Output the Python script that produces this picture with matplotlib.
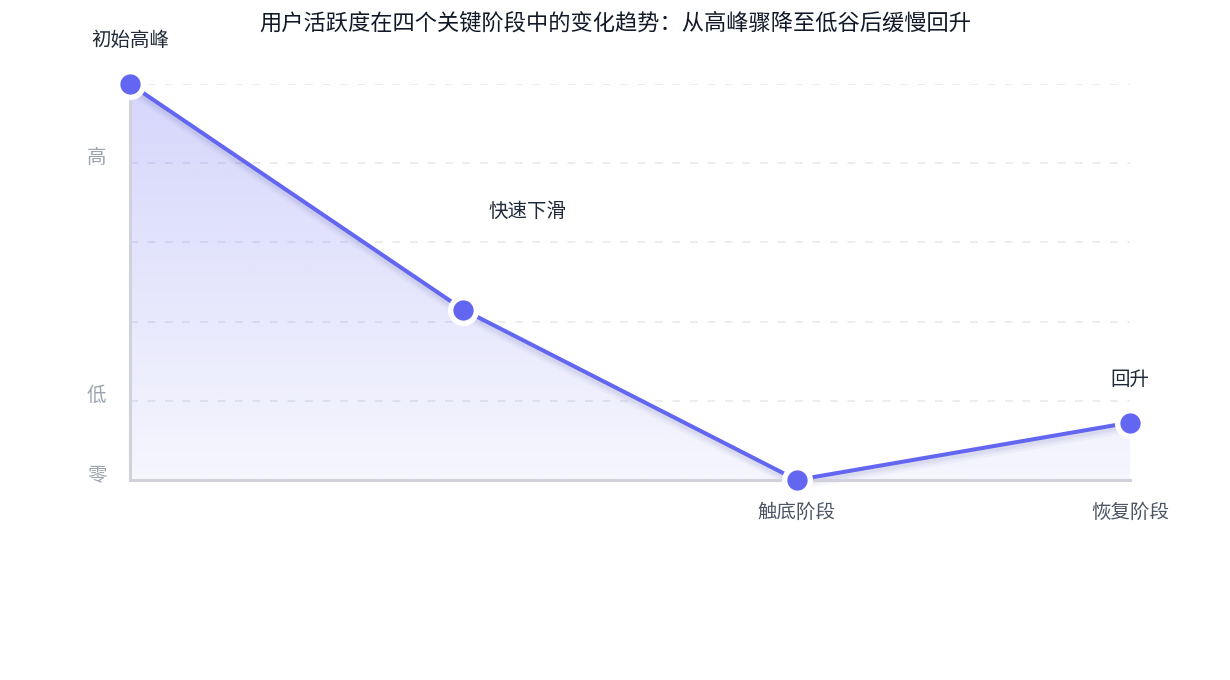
import matplotlib
matplotlib.use("Agg")
import matplotlib.pyplot as plt
import matplotlib.transforms as mtransforms
from matplotlib.colors import LinearSegmentedColormap
import numpy as np

plt.rcParams['font.family'] = ['Noto Sans CJK SC', 'DejaVu Sans']

# ---- data ----
title = "用户活跃度在四个关键阶段中的变化趋势：从高峰骤降至低谷后缓慢回升"
x_positions = [0, 1, 2, 3]
values = [100, 43, 0, 14.5]
point_labels = ["初始高峰", "快速下滑", "", "回升"]
x_tick_labels = ["", "", "触底阶段", "恢复阶段"]
y_ticks = [0, 20, 40, 60, 80, 100]
y_tick_labels = ["零", "低", "", "", "高", ""]

LINE = "#6366f1"
W, H = 1230, 680
fig = plt.figure(figsize=(W / 100, H / 100), dpi=100)
ax = fig.add_axes([130 / W, 200 / H, 1000 / W, 396 / H])
ax.set_xlim(0, 3)
ax.set_ylim(0, 100)

# gradient fill under the line
cmap = LinearSegmentedColormap.from_list(
    "g", [(99 / 255, 102 / 255, 241 / 255, 0.06), (99 / 255, 102 / 255, 241 / 255, 0.27)])
grad = np.linspace(0, 1, 256).reshape(-1, 1)
poly = ax.fill_between(x_positions, values, 0, color="none", lw=0)
im = ax.imshow(grad, cmap=cmap, origin="lower", aspect="auto",
               extent=[0, 3, 0, 100], zorder=1)
path = poly.get_paths()[0]
im.set_clip_path(path, transform=ax.transData)

# grid
for yv in y_ticks[1:]:
    ax.axhline(yv, color="#ececf1", lw=1.4, ls=(0, (4, 5)), zorder=0.5)

# line shadow
for off, lw, a in [(5, 10, 0.04), (4, 7, 0.05), (3, 5, 0.06)]:
    tr = ax.transData + mtransforms.ScaledTranslation(0, -off / 100, fig.dpi_scale_trans)
    ax.plot(x_positions, values, color="#4b4f9a", lw=lw * 0.72, alpha=a,
            transform=tr, solid_capstyle="round", zorder=2, clip_on=False)

ax.plot(x_positions, values, color=LINE, lw=2.9, zorder=3, clip_on=False,
        solid_capstyle="round")
ax.plot(x_positions, values, "o", ms=18.5, mfc=LINE, mec="white", mew=3.9,
        zorder=4, clip_on=False)

# point labels
offsets = [(0, 44), (64, 98), (0, 0), (0, 43)]
for xv, yv, lab, (dx, dy) in zip(x_positions, values, point_labels, offsets):
    if lab:
        ax.annotate(lab, (xv, yv), xytext=(dx * 0.72, dy * 0.72),
                    textcoords="offset points", ha="center", va="center",
                    fontsize=14, color="#1f2937", zorder=5, annotation_clip=False)

# axes styling
for s in ["top", "right"]:
    ax.spines[s].set_visible(False)
for s in ["left", "bottom"]:
    ax.spines[s].set_color("#d1d1dc")
    ax.spines[s].set_linewidth(2.2)
ax.set_xticks(x_positions)
ax.set_xticklabels(x_tick_labels, fontsize=14, color="#4b5563")
ax.set_yticks(y_ticks)
ax.set_yticklabels(y_tick_labels, fontsize=14, color="#9ca3af")
ax.tick_params(axis="both", length=0)
ax.tick_params(axis="x", pad=16)
ax.tick_params(axis="y", pad=17)
ytr = mtransforms.ScaledTranslation(0, 8 / 100, fig.dpi_scale_trans)
for t in ax.get_yticklabels():
    t.set_transform(t.get_transform() + ytr)

fig.text(0.5, 1 - 23 / H, title, ha="center", va="center", fontsize=16,
         color="#111827")

fig.savefig("out.png", dpi=100, facecolor="white")
